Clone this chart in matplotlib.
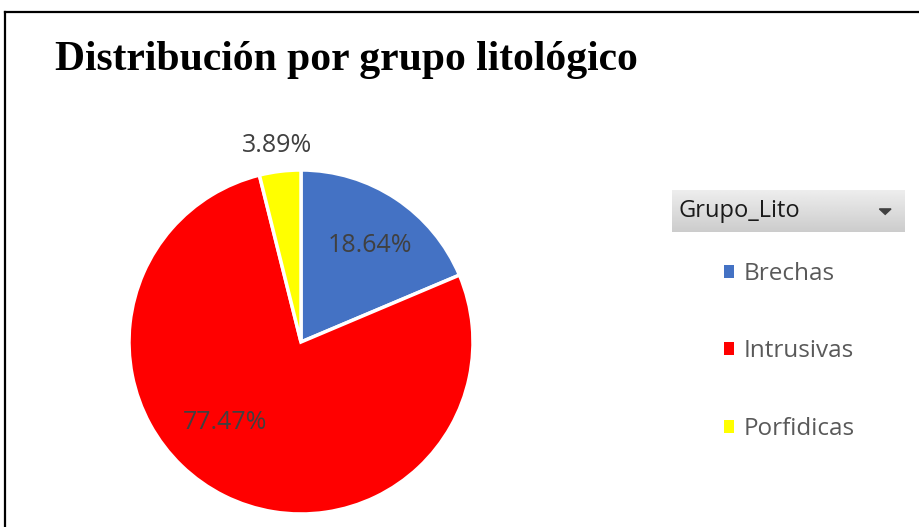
import numpy as np
import matplotlib
matplotlib.use("Agg")
import matplotlib.pyplot as plt
from matplotlib.lines import Line2D
from matplotlib.patches import Polygon

# Datos del gráfico
grupos = ["Brechas", "Intrusivas", "Porfidicas"]
porcentajes = [18.64, 77.47, 3.89]
colores = ["#4472C4", "#FF0000", "#FFFF00"]
titulo = "Distribución por grupo litológico"
titulo_leyenda = "Grupo_Lito"

# ajustes de posicion de etiquetas (radio, giro en grados)
radio_etiqueta = [0.69, 0.645, 1.15]
giro_etiqueta = [-2, -17, 0]

W, H = 919, 527
fig = plt.figure(figsize=(W / 100, H / 100), dpi=100)
fig.patch.set_facecolor("white")

# Eje del pie: centro (301, 342), radio 172 px
cx, cy, r = 301, 342, 172
ax = fig.add_axes([(cx - r) / W, (H - cy - r) / H, 2 * r / W, 2 * r / H])
wedges, _ = ax.pie(porcentajes, colors=colores, startangle=90, counterclock=False,
                   wedgeprops=dict(edgecolor="white", linewidth=2.5))
ax.set_xlim(-1, 1)
ax.set_ylim(-1, 1)
ax.set_aspect("equal")
ax.axis("off")

# Etiquetas de porcentaje
for w, p, rr, g in zip(wedges, porcentajes, radio_etiqueta, giro_etiqueta):
    ang = np.deg2rad((w.theta1 + w.theta2) / 2 + g)
    ax.text(rr * np.cos(ang), rr * np.sin(ang), f"{p:.2f}%", ha="center", va="center",
            fontsize=18, color="#404040", family="Open Sans", clip_on=False)

# Titulo
fig.text(55 / W, 1 - 70 / H, titulo, fontsize=30, fontweight="bold",
         family="Liberation Serif", color="black", va="baseline", ha="left")

# Marco (izquierda y arriba)
fig.add_artist(Line2D([5 / W, 5 / W], [0, 1 - 12 / H], color="black", lw=1.6,
                      transform=fig.transFigure))
fig.add_artist(Line2D([5 / W, 1], [1 - 12 / H, 1 - 12 / H], color="black", lw=1.6,
                      transform=fig.transFigure))

# Cabecera de la leyenda con degradado gris
hx0, hx1, hy0, hy1 = 672, 905, 190, 232
axh = fig.add_axes([hx0 / W, 1 - hy1 / H, (hx1 - hx0) / W, (hy1 - hy0) / H])
grad = np.linspace(0.93, 0.80, 50).reshape(-1, 1)
axh.imshow(grad, cmap="gray", vmin=0, vmax=1, aspect="auto", extent=[0, 1, 0, 1])
axh.set_xlim(0, 1)
axh.set_ylim(0, 1)
axh.axis("off")
axh.text(6 / (hx1 - hx0), 0.5, titulo_leyenda, fontsize=17, family="Open Sans",
         color="#1a1a1a", va="center", ha="left")
axh.add_patch(Polygon([[0.89, 0.55], [0.94, 0.55], [0.915, 0.42]], closed=True,
                      color="#404040"))

# Leyenda
leg = fig.legend(wedges, grupos, loc="upper left",
                 bbox_to_anchor=(724 / W, 1 - 262 / H), frameon=False,
                 prop=dict(family="Open Sans", size=17.5), labelcolor="#595959",
                 handlelength=0.42, handleheight=0.42, handletextpad=0.4,
                 labelspacing=2.2, borderpad=0, borderaxespad=0)
for hnd in leg.legend_handles:
    hnd.set_edgecolor("none")

fig.savefig("out.png", dpi=100, facecolor="white")
